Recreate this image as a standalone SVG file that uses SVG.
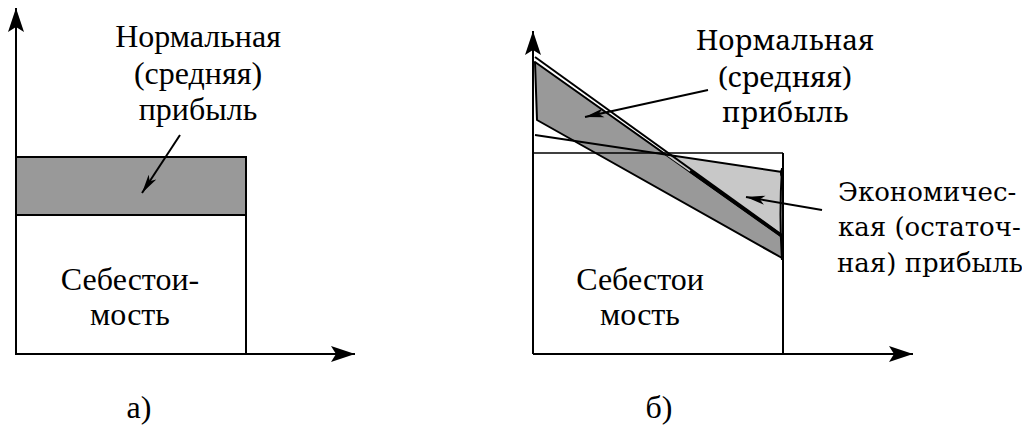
<svg xmlns="http://www.w3.org/2000/svg" width="1022" height="427" viewBox="0 0 1022 427">
<defs>
<marker id="ax" markerUnits="userSpaceOnUse" markerWidth="26" markerHeight="18" refX="24" refY="8" orient="auto" viewBox="0 0 26 16">
<path d="M24,8 L0,0 L5,8 L0,16 Z" fill="#000"/>
</marker>
<marker id="ld" markerUnits="userSpaceOnUse" markerWidth="20" markerHeight="10" refX="19" refY="5" orient="auto" viewBox="0 0 20 10">
<path d="M19,5 L0,0.5 L5,5 L0,9.5 Z" fill="#000"/>
</marker>
</defs>
<rect width="1022" height="427" fill="#fff"/>

<g id="a-profit"><rect x="16" y="157" width="230" height="58" fill="#999" stroke="#000" stroke-width="2"/></g>
<g id="a-cost"><rect x="16" y="215" width="230" height="139" fill="#fff" stroke="#000" stroke-width="2"/>
<text x="130" y="290" font-family="serif" font-size="32" text-anchor="middle">Себестои-</text>
<text x="130" y="325" font-family="serif" font-size="32" text-anchor="middle">мость</text></g>
<g id="a-label">
<text x="198" y="47" font-family="Times New Roman" font-size="32" text-anchor="middle">Нормальная</text>
<text x="198" y="84" font-family="Times New Roman" font-size="32" text-anchor="middle">(средняя)</text>
<text x="198" y="120" font-family="Times New Roman" font-size="32" text-anchor="middle">прибыль</text></g>
<g id="a-caption"><text x="139" y="418" font-family="Liberation Serif" font-size="32" text-anchor="middle">а)</text></g>

<g id="b-normal-profit"><polygon points="535,62 782,237 782,258 537,120" fill="#999" stroke="#000" stroke-width="2" stroke-linejoin="round"/></g>
<g id="b-econ-profit"><polygon points="666,155 782,172 782,236" fill="#c8c8c8"/></g>
<g id="b-lines" stroke="#000" stroke-width="2" fill="none">
<line x1="533" y1="153" x2="783" y2="153" stroke-width="1.5"/>
<line x1="535" y1="135" x2="782" y2="172"/>
<line x1="535" y1="57" x2="782" y2="235"/>
<line x1="690" y1="171" x2="782" y2="236" stroke-width="3"/>
<path d="M782,168 Q779,215 782,260"/>
<ellipse cx="782" cy="173" rx="2" ry="4" fill="#000" stroke="none"/>
<line x1="783" y1="153" x2="783" y2="354"/>
</g>
<g id="b-cost">
<text x="640" y="290" font-family="Tinos" font-size="32" text-anchor="middle">Себестои</text>
<text x="640" y="325" font-family="Tinos" font-size="32" text-anchor="middle">мость</text></g>
<g id="b-normal">
<text x="785" y="50" font-family="Noto Serif" font-size="28" text-anchor="middle">Нормальная</text>
<text x="785" y="87" font-family="Noto Serif" font-size="28" text-anchor="middle">(средняя)</text>
<text x="785" y="122" font-family="Noto Serif" font-size="28" text-anchor="middle">прибыль</text></g>
<g id="b-econ">
<text x="838" y="201" font-family="DejaVu Serif" font-size="26">Экономичес-</text>
<text x="838" y="236" font-family="DejaVu Serif" font-size="26">кая (остаточ-</text>
<text x="837" y="272" font-family="DejaVu Serif" font-size="26">ная) прибыль</text></g>
<g id="b-caption"><text x="659" y="418" style="font-family:'Liberation Serif'" font-size="32" text-anchor="middle">б)</text></g>

<g id="connectors" stroke="#000" stroke-width="2" fill="none">
<line x1="16" y1="354" x2="16" y2="8" marker-end="url(#ax)"/>
<line x1="16" y1="354" x2="355" y2="354" marker-end="url(#ax)"/>
<line x1="533" y1="354" x2="533" y2="31" marker-end="url(#ax)"/>
<line x1="533" y1="354" x2="913" y2="354" marker-end="url(#ax)"/>
<line x1="180" y1="135" x2="142" y2="193" marker-end="url(#ld)"/>
<line x1="708" y1="90" x2="585" y2="117" marker-end="url(#ld)"/>
<line x1="822" y1="210" x2="746" y2="197" marker-end="url(#ld)"/>
</g>
</svg>
